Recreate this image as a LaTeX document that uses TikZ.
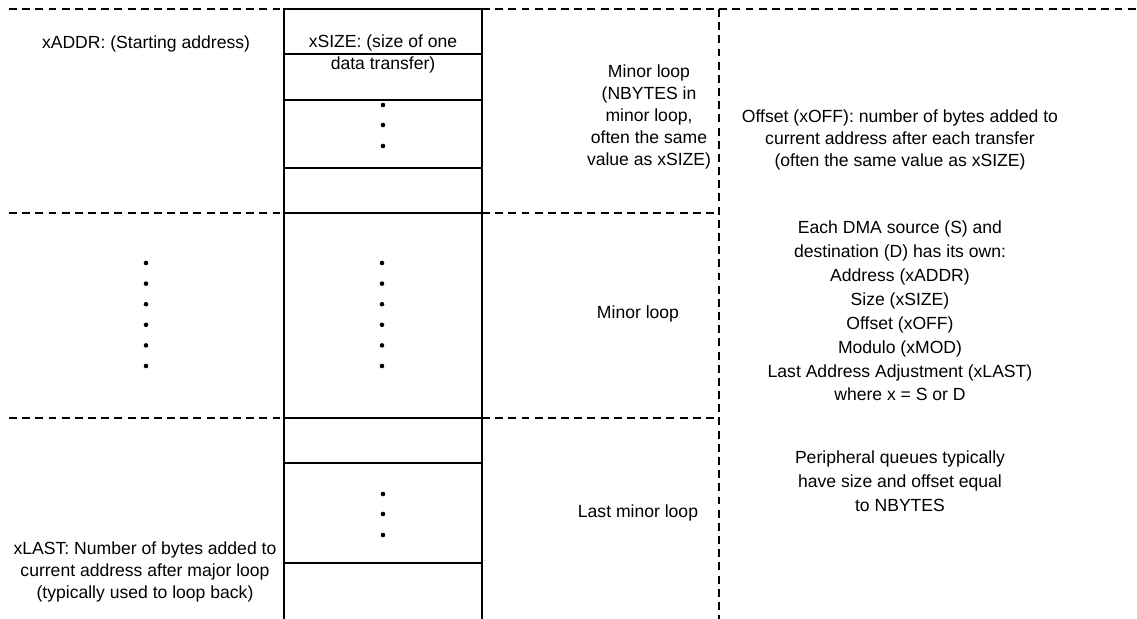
\documentclass[tikz,border=0pt]{standalone}
\usepackage{fontspec}
\setmainfont{Liberation Sans}
\usetikzlibrary{positioning,calc}

\begin{document}
\begin{tikzpicture}[
  x=0.02cm, y=-0.02cm,
  lbl/.style={align=center, inner sep=0pt, font=\fontsize{10}{12.6}\selectfont},
  note/.style={align=center, inner sep=0pt, font=\fontsize{10}{13.6}\selectfont},
  colEdge/.style={line width=1.6pt},
  slotLine/.style={line width=0.7pt},
  bound/.style={dash pattern=on 4.5pt off 3pt, line width=0.6pt},
  dotmark/.style={fill=black},
]
\useasboundingbox (0,0) rectangle (1137,619);

% ---------------- COORDINATES (pixel grid) ----------------
\coordinate (colTL) at (284,9);
\coordinate (colTR) at (482,9);
\coordinate (colBL) at (284,619);
\coordinate (colBR) at (482,619);
\coordinate (divTop) at (719,9);
\coordinate (divBot) at (719,619);

% ---------------- DASHED BOUNDARIES ----------------
\draw[bound] (9,9) -- (colTL);
\draw[bound] (colTR) -- (1137,9);
\draw[bound] (divTop) -- (divBot);
\foreach \yy in {213,418} {
  \draw[bound] (9,\yy) -- (284,\yy);
  \draw[bound] (482,\yy) -- (719,\yy);
}

% ---------------- MEMORY COLUMN ----------------
\foreach \yy in {54,100,168,463,563}
  \draw[slotLine] (284,\yy) -- (482,\yy);
\draw[colEdge] (colBL) -- (colTL) -- (colTR) -- (colBR);
\draw[colEdge] (284,213) -- (482,213);
\draw[colEdge] (284,418) -- (482,418);

% dots
\foreach \yy in {105,125,146,494,514,535}
  \fill[dotmark] (383,\yy) circle[radius=1.3pt];
\foreach \i in {0,...,5} {
  \fill[dotmark] (146,263+20.6*\i) circle[radius=1.3pt];
  \fill[dotmark] (382,263+20.6*\i) circle[radius=1.3pt];
}

% ---------------- LABELS ----------------
\node[lbl] (ADDR) at (146,44) {xADDR: (Starting address)};
\node[lbl] (SIZE) at (383,54) {xSIZE: (size of one\\data transfer)};
\node[lbl] (MINOR1) at (649,117)
  {Minor loop\\(NBYTES in\\minor loop,\\often the same\\value as xSIZE)};
\node[lbl] (MINOR2) at (638,314) {Minor loop};
\node[lbl] (MINOR3) at (638,513) {Last minor loop};
\node[lbl] (LAST) at (145,572)
  {xLAST: Number of bytes added to\\current address after major loop\\(typically used to loop back)};

\node[lbl] (OFF) at (900,140)
  {Offset (xOFF): number of bytes added to\\current address after each transfer\\(often the same value as xSIZE)};
\node[note] (EACH) at (900,311)
  {Each DMA source (S) and\\destination (D) has its own:\\Address (xADDR)\\Size (xSIZE)\\Offset (xOFF)\\Modulo (xMOD)\\Last Address Adjustment (xLAST)\\where x = S or D};
\node[note] (PERIPH) at (900,481)
  {Peripheral queues typically\\have size and offset equal\\to NBYTES};
\end{tikzpicture}
\end{document}
